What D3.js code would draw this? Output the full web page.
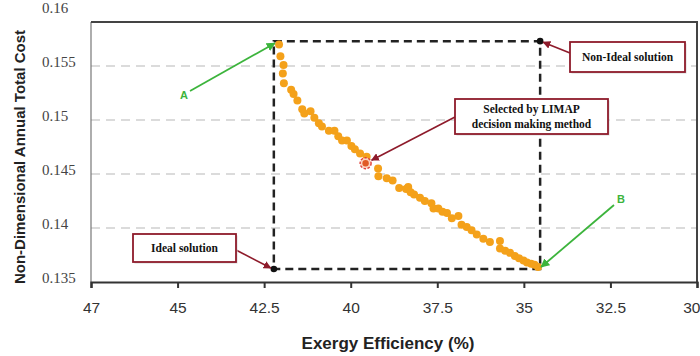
<!DOCTYPE html>
<html>
<head>
<meta charset="utf-8">
<script src="https://cdn.jsdelivr.net/npm/d3@7"></script>
<style>
  body { margin: 0; background: #fff; }
  svg { display: block; }
</style>
</head>
<body>
<div id="chart"></div>
<script>
// Pareto front
const exergy = [42.07, 42.03, 41.94, 41.96, 41.93, 41.72, 41.65, 41.54, 41.40, 41.34, 41.16, 41.05, 40.92, 40.83, 40.63, 40.47, 40.36, 40.25, 40.11, 39.98, 39.88, 39.73, 39.54, 39.21, 39.20, 38.96, 38.79, 38.60, 38.40, 38.34, 38.27, 38.17, 38.00, 37.86, 37.67, 37.61, 37.47, 37.35, 37.22, 37.08, 36.89, 36.80, 36.65, 36.51, 36.36, 36.17, 35.98, 35.69, 35.69, 35.54, 35.40, 35.26, 35.14, 35.01, 34.91, 34.79, 34.69, 34.59];
const cost = [0.1570, 0.1559, 0.1551, 0.1543, 0.1534, 0.1528, 0.1524, 0.1518, 0.1510, 0.1506, 0.1508, 0.1502, 0.1497, 0.1494, 0.1490, 0.1490, 0.1485, 0.1481, 0.1481, 0.1476, 0.1473, 0.1469, 0.1466, 0.1455, 0.1448, 0.1446, 0.1444, 0.1437, 0.1436, 0.1438, 0.1433, 0.1431, 0.1428, 0.1425, 0.1423, 0.1418, 0.1418, 0.1415, 0.1414, 0.1409, 0.1411, 0.1403, 0.1401, 0.1398, 0.1394, 0.1390, 0.1387, 0.1388, 0.1381, 0.1379, 0.1377, 0.1374, 0.1372, 0.1370, 0.1368, 0.1367, 0.1366, 0.1364];

const selectedPoint = [39.57, 0.1460];
const idealPoint = [42.22, 0.1362];
const nonIdealPoint = [34.53, 0.1573];

const xTickValues = [47.5, 45, 42.5, 40, 37.5, 35, 32.5, 30];
const xTickLabels = ['47', '45', '42.5', '40', '37.5', '35', '32.5', '30'];
const yTickValues = [0.135, 0.14, 0.145, 0.15, 0.155, 0.16];
const yTickLabels = ['0.135', '0.14', '0.145', '0.15', '0.155', '0.16'];
const gridValues = [0.14, 0.145, 0.15, 0.155];

const width = 700;
const height = 356;
const frame = {left: 91, right: 697, top: 22, bottom: 282};

const svg = d3.select('#chart').append('svg')
  .attr('width', width)
  .attr('height', height);

const x = d3.scaleLinear().domain([47.5, 30]).range([frame.left, frame.right]);
const y = d3.scaleLinear().domain([0.135, 0.16]).range([frame.bottom, 12]);

const defs = svg.append('defs');
function marker(id, color) {
  defs.append('marker')
    .attr('id', id)
    .attr('viewBox', '0 0 10 10')
    .attr('refX', 9).attr('refY', 5)
    .attr('markerWidth', 5).attr('markerHeight', 5)
    .attr('orient', 'auto')
    .append('path')
    .attr('d', 'M0,0 L10,5 L0,10 Z')
    .attr('fill', color);
}
marker('arrGreen', '#3cb43c');
marker('arrRed', '#8e1b2b');

// grid lines
svg.append('g').selectAll('line')
  .data(gridValues)
  .join('line')
  .attr('x1', frame.left).attr('x2', frame.right)
  .attr('y1', d => y(d)).attr('y2', d => y(d))
  .attr('stroke', '#cfcfcf')
  .attr('stroke-width', 1.6)
  .attr('stroke-dasharray', '9,6');

// frame
svg.append('line')
  .attr('x1', frame.left).attr('x2', frame.left)
  .attr('y1', frame.top).attr('y2', frame.bottom)
  .attr('stroke', '#777').attr('stroke-width', 1.2);
svg.append('path')
  .attr('d', `M${frame.left},${frame.top} H${frame.right} V${frame.bottom}`)
  .attr('fill', 'none')
  .attr('stroke', '#444').attr('stroke-width', 2);

// x axis
const xAxis = d3.axisBottom(x)
  .tickValues(xTickValues)
  .tickFormat((d, i) => xTickLabels[i])
  .tickSize(6)
  .tickPadding(14);
const gx = svg.append('g')
  .attr('transform', `translate(0,${frame.bottom})`)
  .call(xAxis);
gx.select('.domain').attr('stroke', '#333').attr('stroke-width', 2.2);
gx.selectAll('.tick line').attr('stroke', '#333').attr('stroke-width', 2);
gx.selectAll('.tick text')
  .attr('fill', '#333')
  .style('font-family', 'Liberation Sans, Arial, sans-serif')
  .style('font-size', '15.5px');
// last label sits on the window edge
gx.selectAll('.tick text').filter((d, i) => i === xTickValues.length - 1)
  .attr('text-anchor', 'end')
  .attr('dx', 3);

// y tick labels
svg.append('g').selectAll('text')
  .data(yTickValues)
  .join('text')
  .attr('x', 42)
  .attr('y', d => y(d) + 1)
  .attr('fill', '#444')
  .style('font-family', 'Liberation Serif, Times New Roman, serif')
  .style('font-size', '15px')
  .text((d, i) => yTickLabels[i]);

// axis titles
svg.append('text')
  .attr('x', 388).attr('y', 349)
  .attr('text-anchor', 'middle')
  .attr('fill', '#222')
  .style('font-family', 'Liberation Sans, Arial, sans-serif')
  .style('font-weight', 'bold')
  .style('font-size', '17px')
  .text('Exergy Efficiency (%)');

svg.append('text')
  .attr('transform', 'translate(25,157) rotate(-90)')
  .attr('text-anchor', 'middle')
  .attr('fill', '#222')
  .style('font-family', 'Liberation Sans, Arial, sans-serif')
  .style('font-weight', 'bold')
  .style('font-size', '15px')
  .text('Non-Dimensional Annual Total Cost');

// dashed box between ideal and non-ideal
svg.append('rect')
  .attr('x', x(idealPoint[0]))
  .attr('y', y(nonIdealPoint[1]))
  .attr('width', x(nonIdealPoint[0]) - x(idealPoint[0]))
  .attr('height', y(idealPoint[1]) - y(nonIdealPoint[1]))
  .attr('fill', 'none')
  .attr('stroke', '#222')
  .attr('stroke-width', 2.5)
  .attr('stroke-dasharray', '8,5');

// points
const pts = exergy.map((e, i) => [e, cost[i]]);
svg.append('g').selectAll('circle')
  .data(pts)
  .join('circle')
  .attr('cx', d => x(d[0]))
  .attr('cy', d => y(d[1]))
  .attr('r', 4)
  .attr('fill', '#f4a11a');

// selected solution
svg.append('circle')
  .attr('cx', x(selectedPoint[0])).attr('cy', y(selectedPoint[1]))
  .attr('r', 5.5)
  .attr('fill', '#fbd3c0')
  .attr('stroke', '#e0403a')
  .attr('stroke-width', 1.4)
  .attr('stroke-dasharray', '2.5,1.5');
svg.append('circle')
  .attr('cx', x(selectedPoint[0])).attr('cy', y(selectedPoint[1]))
  .attr('r', 3.2)
  .attr('fill', '#e05a25');

// ideal / non-ideal markers
svg.append('g').selectAll('circle')
  .data([idealPoint, nonIdealPoint])
  .join('circle')
  .attr('cx', d => x(d[0]))
  .attr('cy', d => y(d[1]))
  .attr('r', 3.3)
  .attr('fill', '#111');

// green arrows A and B
function greenArrow(x1, y1, x2, y2) {
  svg.append('line')
    .attr('x1', x1).attr('y1', y1).attr('x2', x2).attr('y2', y2)
    .attr('stroke', '#3cb43c').attr('stroke-width', 1.8)
    .attr('marker-end', 'url(#arrGreen)');
}
greenArrow(190, 91, x(idealPoint[0]) + 1, y(nonIdealPoint[1]) + 2);
greenArrow(614, 205, x(nonIdealPoint[0]) + 1, y(idealPoint[1]) - 2);

svg.append('text').attr('x', 184).attr('y', 99)
  .attr('text-anchor', 'middle').attr('fill', '#3cb43c')
  .style('font-family', 'Liberation Sans, Arial, sans-serif')
  .style('font-weight', 'bold').style('font-size', '11px')
  .text('A');
svg.append('text').attr('x', 621).attr('y', 203)
  .attr('text-anchor', 'middle').attr('fill', '#3cb43c')
  .style('font-family', 'Liberation Sans, Arial, sans-serif')
  .style('font-weight', 'bold').style('font-size', '11px')
  .text('B');

// annotation boxes
function callout(bx, by, bw, bh, lines, from, to) {
  svg.append('line')
    .attr('x1', from[0]).attr('y1', from[1])
    .attr('x2', to[0]).attr('y2', to[1])
    .attr('stroke', '#8e1b2b').attr('stroke-width', 1.6)
    .attr('marker-end', 'url(#arrRed)');
  svg.append('rect')
    .attr('x', bx + 1.5).attr('y', by + 1.5)
    .attr('width', bw).attr('height', bh)
    .attr('fill', '#d8d8d8');
  svg.append('rect')
    .attr('x', bx).attr('y', by)
    .attr('width', bw).attr('height', bh)
    .attr('fill', '#fff')
    .attr('stroke', '#8e1b2b').attr('stroke-width', 1.8);
  const t = svg.append('text')
    .attr('text-anchor', 'middle')
    .attr('fill', '#111')
    .style('font-family', 'Liberation Serif, Times New Roman, serif')
    .style('font-weight', 'bold')
    .style('font-size', '11.5px');
  const cy = by + bh / 2 - (lines.length - 1) * 7.5 + 4;
  lines.forEach((s, i) => {
    t.append('tspan')
      .attr('x', bx + bw / 2)
      .attr('y', cy + i * 15)
      .text(s);
  });
}

callout(570, 42, 115, 30, ['Non-Ideal solution'],
  [570, 53], [x(nonIdealPoint[0]) + 3, y(nonIdealPoint[1]) + 1]);
callout(455, 99, 153, 35, ['Selected by LIMAP', 'decision making method'],
  [455, 117], [x(selectedPoint[0]) + 6, y(selectedPoint[1]) - 3]);
callout(133, 234, 103, 28, ['Ideal solution'],
  [236, 250], [x(idealPoint[0]) - 3, y(idealPoint[1]) - 1]);
</script>
</body>
</html>
